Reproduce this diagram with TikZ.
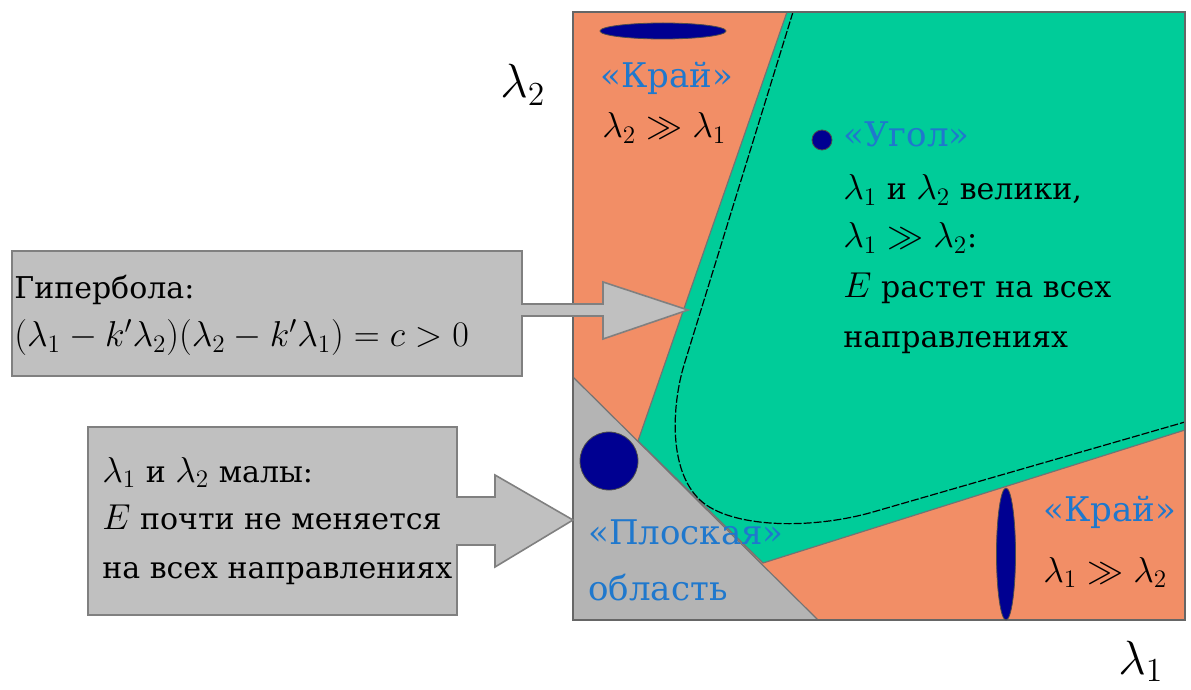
\RequirePackage{fix-cm}
\documentclass[tikz,border=0pt]{standalone}
\usepackage{fontspec}
\setmainfont{DejaVu Serif}
\definecolor{edgeorange}{RGB}{242,142,102}
\definecolor{cornergreen}{RGB}{0,204,153}
\definecolor{flatgrey}{RGB}{180,180,180}
\definecolor{calloutgrey}{RGB}{192,192,192}
\definecolor{blobblue}{RGB}{0,0,145}
\definecolor{labelblue}{RGB}{31,120,205}
\newcommand{\eig}[1]{{\fontsize{18}{22}\selectfont$#1$}}

\begin{document}
\begin{tikzpicture}[x=0.5pt,y=-0.5pt,
  txt/.style={anchor=base west, inner sep=0pt, font=\fontsize{15}{22}\selectfont},
  regionlbl/.style={txt, text=labelblue, font=\fontsize{17}{22}\selectfont},
  axislbl/.style={anchor=base west, inner sep=0pt, font=\fontsize{24}{28}\selectfont},
  region/.style={draw=black!55, line width=0.6pt},
  callout/.style={fill=calloutgrey, draw=black!50, line width=0.8pt},
  blob/.style={fill=blobblue, draw=black!70, line width=0.4pt}]
\useasboundingbox (0,0) rectangle (1191,690);
% eigenvalue plane
\fill[edgeorange] (573,12) rectangle (1185,620);
\draw[region, fill=cornergreen] (787,12) -- (1185,12) -- (1185,430) -- (763,563) -- (638,441) -- cycle;
\draw[region, fill=flatgrey] (573,377) -- (818,620) -- (573,620) -- cycle;
% hyperbola
\draw[dash pattern=on 4pt off 1pt, line width=0.6pt] (793,12) -- (684,365)
  .. controls (672,405) and (668,470) .. (700,500)
  .. controls (730,528) and (810,530) .. (873,512) -- (1185,422);
\draw[black!60, line width=1pt] (573,12) rectangle (1185,620);
% blobs
\draw[blob] (663,31) ellipse [x radius=63, y radius=8];
\draw[blob] (822,140) circle (10);
\draw[blob] (609,461) circle (29);
\draw[blob] (1006,554) ellipse [x radius=9.5, y radius=66];
% callouts
\draw[callout] (12,251) -- (522,251) -- (522,304) -- (603,304) -- (603,282) -- (688,310)
  -- (603,339) -- (603,316) -- (522,316) -- (522,376) -- (12,376) -- cycle;
\draw[callout] (88,427) -- (457,427) -- (457,497) -- (495,497) -- (495,475) -- (573,520)
  -- (495,567) -- (495,545) -- (457,545) -- (457,615) -- (88,615) -- cycle;
% labels
\node[regionlbl] (edgetoplbl) at (600,88) {«Край»};
\node[txt] (edgetopcond) at (602,138) {\eig{\lambda_2 \gg \lambda_1}};
\node[regionlbl] (cornerlbl) at (843,147) {«Угол»};
\node[txt] (cornerA) at (843,200) {\eig{\lambda_1} и \eig{\lambda_2} велики,};
\node[txt] (cornerB) at (843,248) {\eig{\lambda_1 \gg \lambda_2}:};
\node[txt] (cornerC) at (843,298) {\eig{E} растет на всех};
\node[txt] (cornerD) at (843,348) {направлениях};
\node[regionlbl] (edgebotlbl) at (1043,522) {«Край»};
\node[txt] (edgebotcond) at (1043,582) {\eig{\lambda_1 \gg \lambda_2}};
\node[regionlbl] (flatA) at (588,545) {«Плоская»};
\node[regionlbl] (flatB) at (588,600) {область};
\node[txt] (hypA) at (14,299) {Гипербола:};
\node[txt] (hypB) at (14,347) {\eig{(\lambda_1 - k'\lambda_2)(\lambda_2 - k'\lambda_1) = c > 0}};
\node[txt] (smallA) at (102,482) {\eig{\lambda_1} и \eig{\lambda_2} малы:};
\node[txt] (smallB) at (102,530) {\eig{E} почти не меняется};
\node[txt] (smallC) at (102,578) {на всех направлениях};
\node[axislbl] (axisy) at (500,98) {$\lambda_2$};
\node[axislbl] (axisx) at (1118,674) {$\lambda_1$};
\end{tikzpicture}
\end{document}
